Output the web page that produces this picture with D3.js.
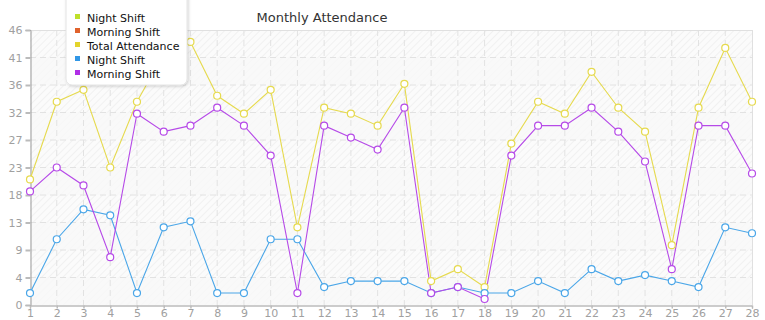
<!DOCTYPE html>
<html>
<head>
<meta charset="utf-8">
<script src="https://cdnjs.cloudflare.com/ajax/libs/d3/7.8.5/d3.min.js"></script>
<style>
  body { margin: 0; background: #fff; }
  svg { display: block; font-family: "DejaVu Sans", sans-serif; }
</style>
</head>
<body>
<div class="chart"></div>
<script>
var days = d3.range(1, 29);
var nightShift = [2, 11, 16, 15, 2, 13, 14, 2, 2, 11, 11, 3, 4, 4, 4, 2, 3, 2, 2, 4, 2, 6, 4, 5, 4, 3, 13, 12];
var morningShift = [19, 23, 20, 8, 32, 29, 30, 33, 30, 25, 2, 30, 28, 26, 33, 2, 3, 1, 25, 30, 30, 33, 29, 24, 6, 30, 30, 22];
var totalAttendance = [21, 34, 36, 23, 34, 42, 44, 35, 32, 36, 13, 33, 32, 30, 37, 4, 6, 3, 27, 34, 32, 39, 33, 29, 10, 33, 43, 34];
var yMax = 46;
var yTicks = d3.range(11).map(function(i) { return yMax * i / 10; });

var legendItems = [
  {name: "Night Shift", color: "#bfe02a"},
  {name: "Morning Shift", color: "#e0622c"},
  {name: "Total Attendance", color: "#e3d42c"},
  {name: "Night Shift", color: "#3197e6"},
  {name: "Morning Shift", color: "#b02ee6"}
];

var lines = [
  {values: totalAttendance, color: "#e6da4e"},
  {values: nightShift, color: "#4aa6e8"},
  {values: morningShift, color: "#b64ae8"}
];

var width = 765, height = 320;
var plotLeft = 30, plotRight = 752, plotTop = 30, plotBottom = 305;

var svg = d3.select(".chart").append("svg")
  .attr("width", width)
  .attr("height", height);

var defs = svg.append("defs");
var hatch = defs.append("pattern")
  .attr("id", "hatch")
  .attr("patternUnits", "userSpaceOnUse")
  .attr("width", 5)
  .attr("height", 5)
  .attr("patternTransform", "rotate(45)");
hatch.append("rect").attr("width", 5).attr("height", 5).attr("fill", "#fbfbfb");
hatch.append("line")
  .attr("x1", 0).attr("y1", 0).attr("x2", 0).attr("y2", 5)
  .attr("stroke", "#ebebeb").attr("stroke-width", 1.2);

var shadow = defs.append("filter").attr("id", "shadow")
  .attr("x", "-20%").attr("y", "-20%").attr("width", "140%").attr("height", "140%");
shadow.append("feDropShadow")
  .attr("dx", 1).attr("dy", 1).attr("stdDeviation", 1.5)
  .attr("flood-color", "#000").attr("flood-opacity", 0.18);

var x = d3.scalePoint().domain(days).range([plotLeft, plotRight]);
var y = d3.scaleLinear().domain([0, yMax]).range([plotBottom, plotTop]);

// background
svg.append("rect")
  .attr("x", plotLeft).attr("y", plotTop)
  .attr("width", plotRight - plotLeft).attr("height", plotBottom - plotTop)
  .attr("fill", "url(#hatch)");

// alternating bands
var bands = d3.range(10).filter(function(i) { return i % 2 == 0; });
svg.selectAll(".band").data(bands).enter().append("rect")
  .attr("class", "band")
  .attr("x", plotLeft)
  .attr("y", function(i) { return y(yTicks[i + 1]); })
  .attr("width", plotRight - plotLeft)
  .attr("height", function(i) { return y(yTicks[i]) - y(yTicks[i + 1]); })
  .attr("fill", "#f8f8f8")
  .attr("opacity", 0.75);

// grid
svg.selectAll(".hgrid").data(yTicks.slice(1, -1)).enter().append("line")
  .attr("x1", plotLeft).attr("x2", plotRight)
  .attr("y1", function(d) { return y(d); })
  .attr("y2", function(d) { return y(d); })
  .attr("stroke", "#e2e2e2")
  .attr("stroke-dasharray", "6,4");

svg.selectAll(".vgrid").data(days.slice(1, -1)).enter().append("line")
  .attr("y1", plotTop).attr("y2", plotBottom)
  .attr("x1", function(d) { return x(d); })
  .attr("x2", function(d) { return x(d); })
  .attr("stroke", "#e2e2e2")
  .attr("stroke-dasharray", "6,4");

// border top & right
svg.append("line").attr("x1", plotLeft).attr("x2", plotRight).attr("y1", plotTop + 0.5).attr("y2", plotTop + 0.5)
  .attr("stroke", "#e0e0e0");
svg.append("line").attr("x1", plotRight + 0.5).attr("x2", plotRight + 0.5).attr("y1", plotTop).attr("y2", plotBottom)
  .attr("stroke", "#e0e0e0");

// axes
var yAxis = d3.axisLeft(y)
  .tickValues(yTicks)
  .tickSize(5)
  .tickPadding(3)
  .tickFormat(function(d) { return Math.floor(d + 1e-9); });
var gy = svg.append("g").attr("transform", "translate(" + (plotLeft + 0.5) + ",0)").call(yAxis);

var xAxis = d3.axisBottom(x).tickSize(3).tickPadding(1);
var gx = svg.append("g").attr("transform", "translate(0," + (plotBottom + 0.5) + ")").call(xAxis);

[gy, gx].forEach(function(g) {
  g.select(".domain").attr("stroke", "#999");
  g.selectAll(".tick line").attr("stroke", "#bbb").attr("stroke-width", 1.5);
  g.selectAll(".tick text")
    .attr("fill", "#a0a0a0")
    .style("font-family", "DejaVu Sans")
    .style("font-size", "11px");
});
gy.selectAll(".tick line").attr("stroke-width", 2);

// lines
var lineGen = d3.line()
  .x(function(d, i) { return x(days[i]); })
  .y(function(d) { return y(d); });

lines.forEach(function(s) {
  svg.append("path")
    .datum(s.values)
    .attr("d", lineGen)
    .attr("fill", "none")
    .attr("stroke", s.color)
    .attr("stroke-width", 1.1);
});
lines.forEach(function(s) {
  svg.append("g").selectAll("circle").data(s.values).enter().append("circle")
    .attr("cx", function(d, i) { return x(days[i]); })
    .attr("cy", function(d) { return y(d); })
    .attr("r", 3.5)
    .attr("fill", "#fff")
    .attr("stroke", s.color)
    .attr("stroke-width", 1.2);
});

// title
svg.append("text")
  .attr("x", 322).attr("y", 22)
  .attr("text-anchor", "middle")
  .attr("fill", "#333")
  .style("font-size", "13px")
  .text("Monthly Attendance");

// legend
var legend = svg.append("g");
legend.append("rect")
  .attr("x", 66).attr("y", -8)
  .attr("width", 121).attr("height", 93)
  .attr("rx", 6)
  .attr("fill", "#fff")
  .attr("stroke", "#e4e4e4")
  .attr("filter", "url(#shadow)");

var rows = legend.selectAll(".row").data(legendItems).enter().append("g")
  .attr("transform", function(d, i) { return "translate(0," + (18 + i * 14) + ")"; });
rows.append("rect")
  .attr("x", 75).attr("y", -4)
  .attr("width", 5).attr("height", 5)
  .attr("fill", function(d) { return d.color; });
rows.append("text")
  .attr("x", 87).attr("y", 0)
  .attr("dy", "0.35em")
  .attr("fill", "#111")
  .style("font-size", "11px")
  .text(function(d) { return d.name; });
</script>
</body>
</html>
